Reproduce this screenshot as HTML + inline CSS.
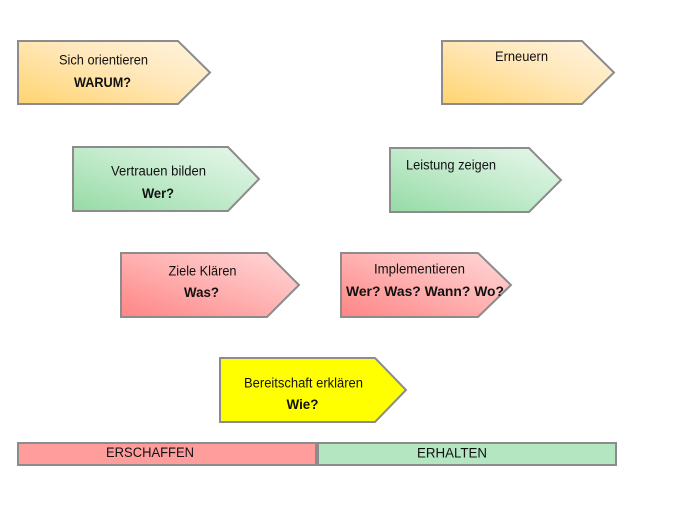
<!DOCTYPE html>
<html><head><meta charset="utf-8"><style>
html,body{margin:0;padding:0;background:#fff;}
svg{display:block;}
text{font-family:"Liberation Sans",Arial,sans-serif;fill:#111;}
.b{font-weight:bold;font-size:14px;}
.r{font-size:13.5px;}
</style></head><body>
<svg width="673" height="505" viewBox="0 0 673 505" xmlns="http://www.w3.org/2000/svg">
<defs>
<linearGradient id="go" x1="0" y1="1" x2="1" y2="0"><stop offset="0" stop-color="#FFD470"/><stop offset="0.55" stop-color="#FFE7B8"/><stop offset="1" stop-color="#FFF4E2"/></linearGradient>
<linearGradient id="gg" x1="0" y1="1" x2="1" y2="0"><stop offset="0" stop-color="#95DBA5"/><stop offset="0.55" stop-color="#C6ECCF"/><stop offset="1" stop-color="#E8F7EC"/></linearGradient>
<linearGradient id="gr" x1="0" y1="1" x2="1" y2="0"><stop offset="0" stop-color="#FF8585"/><stop offset="0.55" stop-color="#FFB5B5"/><stop offset="1" stop-color="#FFD9D9"/></linearGradient>
</defs>
<g stroke="#8C8C8C" stroke-width="2" stroke-linejoin="miter">
<polygon points="18,41 178,41 210,72.5 178,104 18,104" fill="url(#go)"/>
<polygon points="442,41 582,41 614,72.5 582,104 442,104" fill="url(#go)"/>
<polygon points="73,147 228,147 259,179 228,211 73,211" fill="url(#gg)"/>
<polygon points="390,148 529,148 561,180 529,212 390,212" fill="url(#gg)"/>
<polygon points="121,253 267,253 299,285 267,317 121,317" fill="url(#gr)"/>
<polygon points="341,253 478,253 511,285 478,317 341,317" fill="url(#gr)"/>
<polygon points="220,358 375,358 406,390 375,422 220,422" fill="#FFFF00"/>
<rect x="18" y="443" width="298" height="22" fill="#FF9C9C"/>
<rect x="318" y="443" width="298" height="22" fill="#B3E6C1"/>
</g>
<text class="r" x="103.5" y="64.5" text-anchor="middle" textLength="89" lengthAdjust="spacingAndGlyphs">Sich orientieren</text>
<text class="b" x="102.5" y="87" text-anchor="middle" textLength="57" lengthAdjust="spacingAndGlyphs">WARUM?</text>
<text class="r" x="521.5" y="61" text-anchor="middle" textLength="53" lengthAdjust="spacingAndGlyphs">Erneuern</text>
<text class="r" x="158.5" y="175.5" text-anchor="middle" textLength="95" lengthAdjust="spacingAndGlyphs">Vertrauen bilden</text>
<text class="b" x="158" y="198" text-anchor="middle" textLength="32" lengthAdjust="spacingAndGlyphs">Wer?</text>
<text class="r" x="451" y="169.5" text-anchor="middle" textLength="90" lengthAdjust="spacingAndGlyphs">Leistung zeigen</text>
<text class="r" x="202.5" y="275.5" text-anchor="middle" textLength="68" lengthAdjust="spacingAndGlyphs">Ziele Klären</text>
<text class="b" x="201.5" y="297" text-anchor="middle" textLength="35" lengthAdjust="spacingAndGlyphs">Was?</text>
<text class="r" x="419.5" y="273.5" text-anchor="middle" textLength="91" lengthAdjust="spacingAndGlyphs">Implementieren</text>
<text class="b" x="425" y="296" text-anchor="middle" textLength="158" lengthAdjust="spacingAndGlyphs">Wer? Was? Wann? Wo?</text>
<text class="r" x="303.5" y="387.5" text-anchor="middle" textLength="119" lengthAdjust="spacingAndGlyphs">Bereitschaft erklären</text>
<text class="b" x="302.5" y="409" text-anchor="middle" textLength="32" lengthAdjust="spacingAndGlyphs">Wie?</text>
<text class="r" x="150" y="457" text-anchor="middle" textLength="88" lengthAdjust="spacingAndGlyphs">ERSCHAFFEN</text>
<text class="r" x="452" y="457.5" text-anchor="middle" textLength="70" lengthAdjust="spacingAndGlyphs">ERHALTEN</text>
</svg>
</body></html>
